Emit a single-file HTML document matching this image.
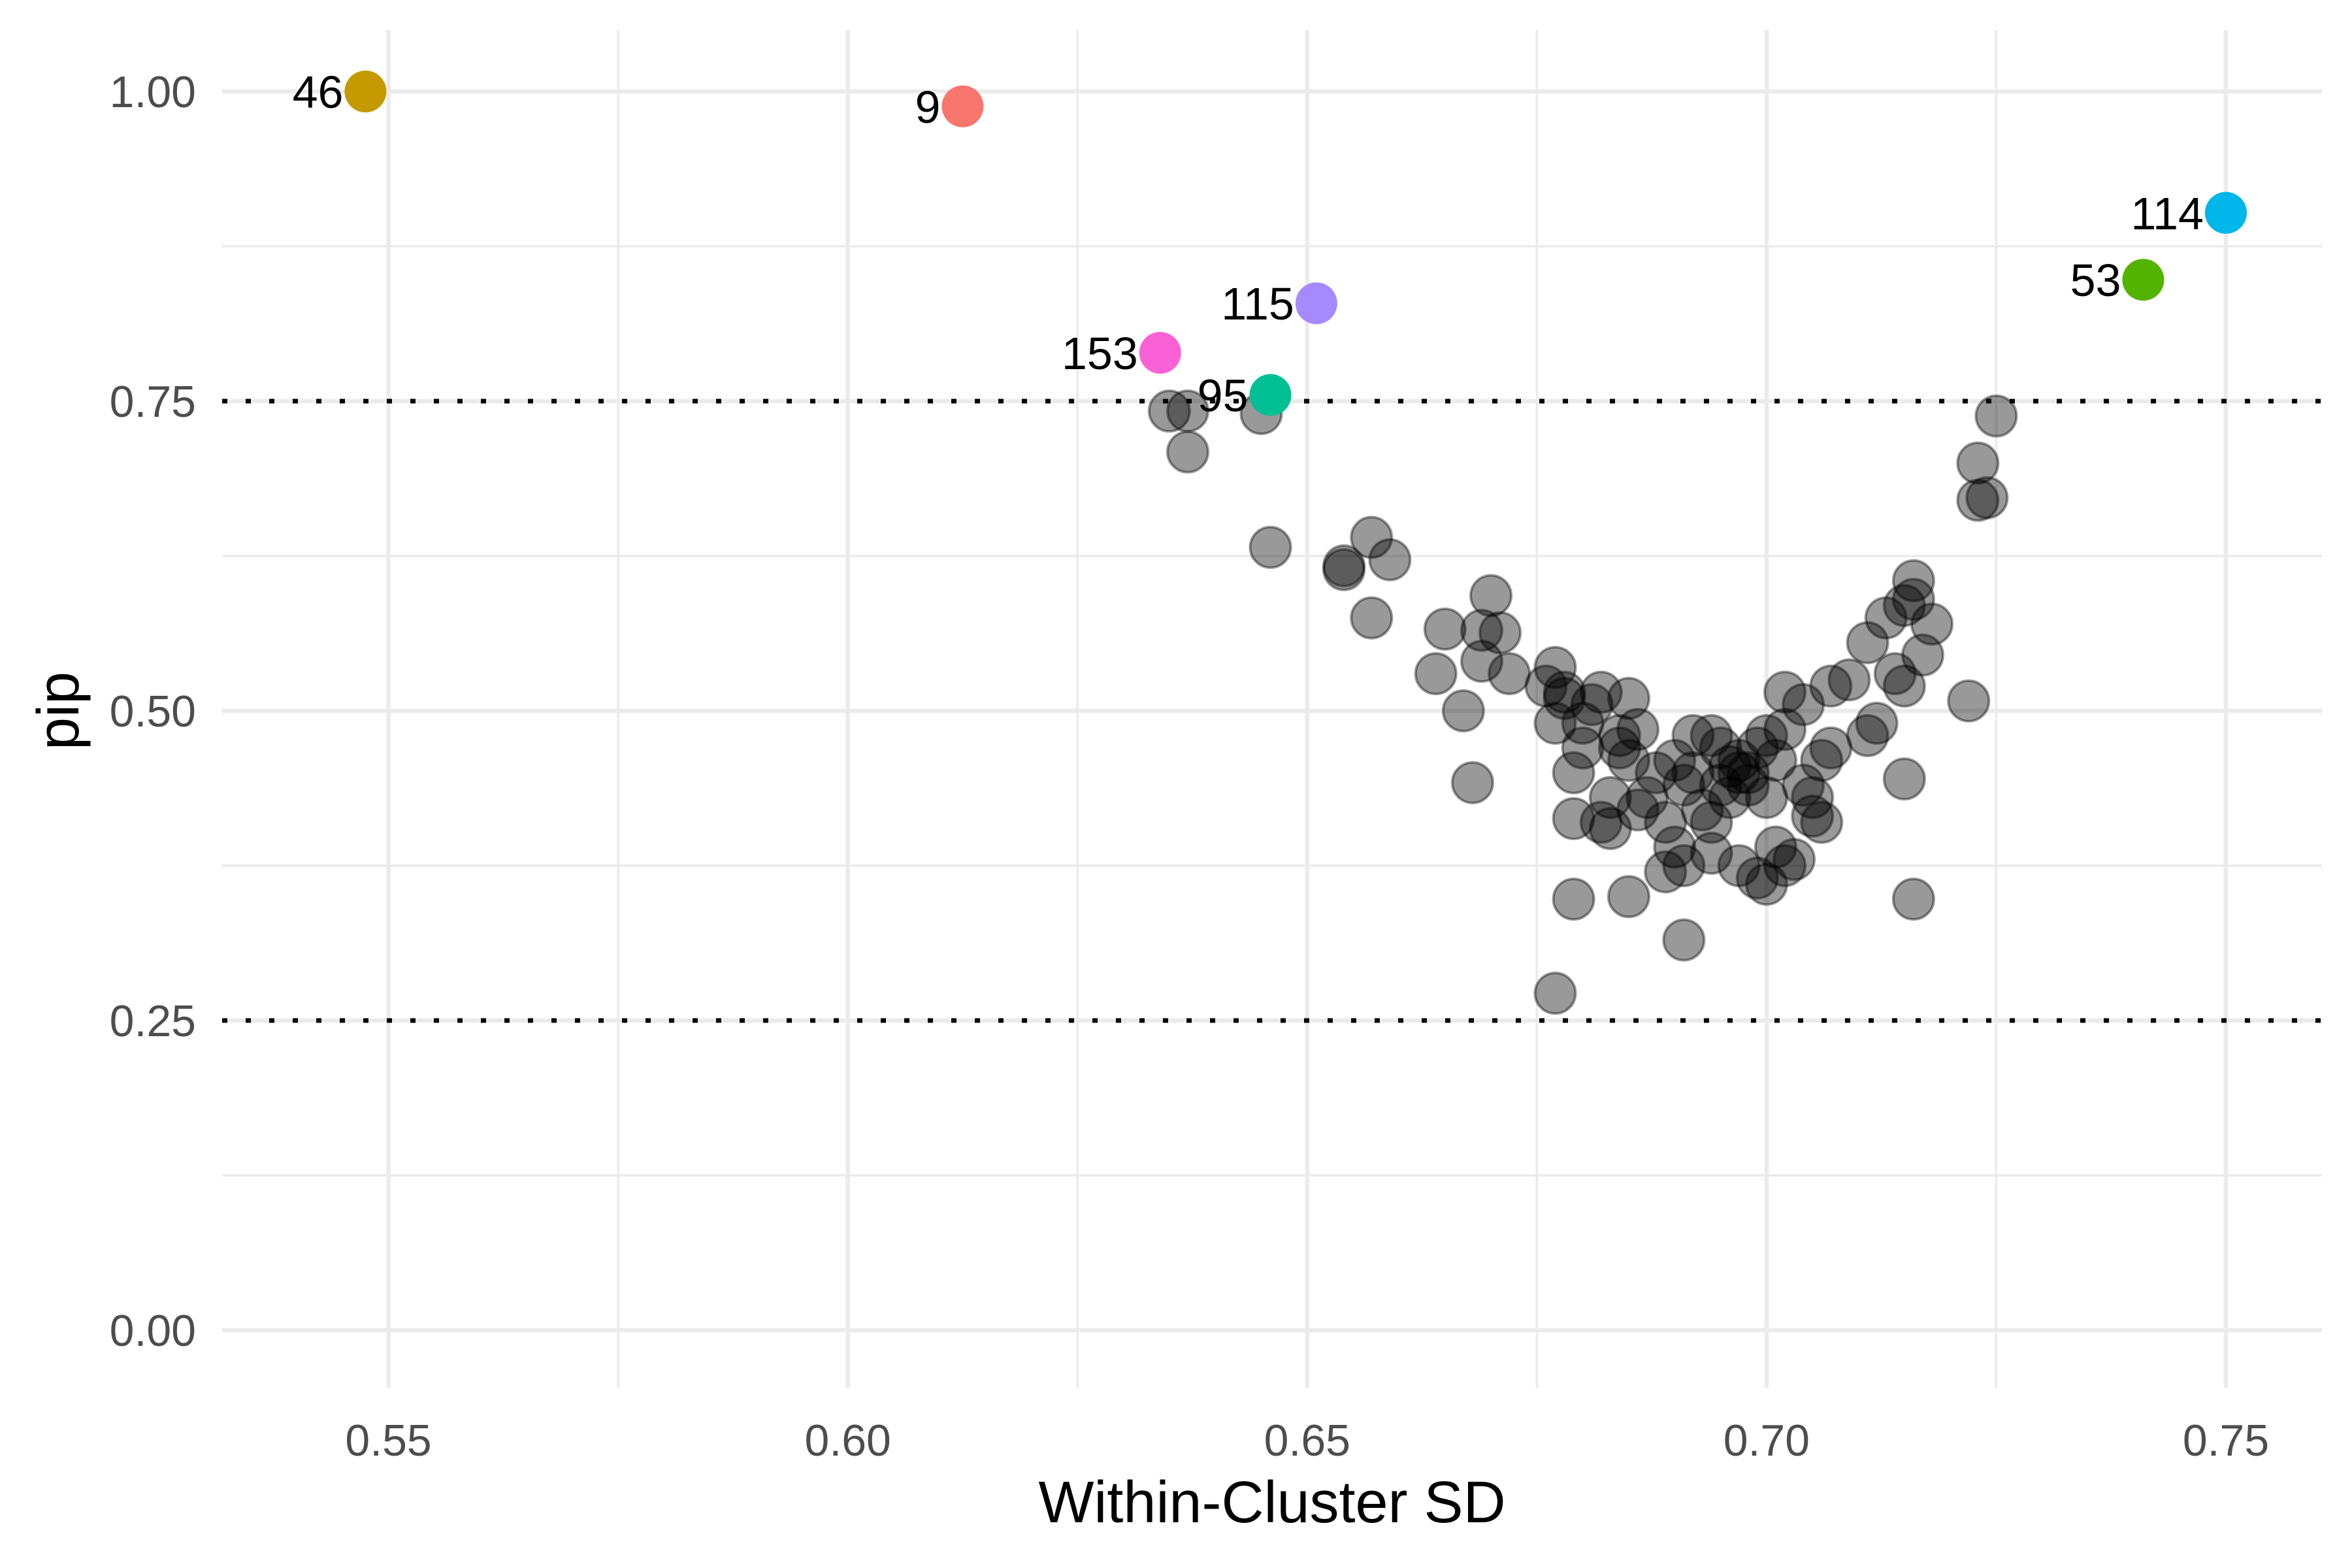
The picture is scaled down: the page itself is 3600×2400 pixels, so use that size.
<!DOCTYPE html>
<html><head><meta charset="utf-8"><style>
html,body{margin:0;padding:0;background:#fff;}
svg{display:block;font-family:"Liberation Sans",sans-serif;}
</style></head><body>
<svg id="chart" width="3600" height="2400" viewBox="0 0 3600 2400" xmlns="http://www.w3.org/2000/svg">
<rect width="3600" height="2400" fill="#fff"/>
<g id="grid"></g>
<g id="refs"></g>
<g id="points"></g>
<g id="highlight"></g>
<g id="axes"></g>
</svg>
<script>
const greyX = [0.635,0.637,0.637,0.645,0.646,0.654,0.654,0.657,0.659,0.657,0.664,0.665,0.667,0.668,0.669,0.669,0.670,0.671,0.672,
0.676,0.677,0.677,0.678,0.678,0.679,0.679,0.679,0.680,0.680,0.681,0.682,0.682,0.683,0.683,0.684,0.684,0.685,0.685,0.685,0.686,0.686,0.687,0.688,0.689,0.689,0.690,0.690,0.691,0.691,0.691,0.692,0.692,0.693,0.694,0.694,0.694,0.695,0.695,0.696,0.696,0.697,0.697,0.697,0.698,0.698,0.699,0.699,0.700,0.700,0.700,0.701,0.701,0.702,0.702,0.702,0.703,0.704,0.704,0.705,0.705,0.706,0.706,0.707,0.707,0.709,0.711,0.711,0.712,0.713,0.714,0.715,0.715,0.715,0.716,0.716,0.716,0.717,0.718,0.722,0.723,0.723,0.724,0.725,0.677];
const greyY = [0.742,0.742,0.709,0.740,0.632,0.614,0.617,0.640,0.622,0.575,0.530,0.566,0.500,0.442,0.540,0.565,0.593,0.563,0.530,
0.52,0.535,0.49,0.51,0.515,0.45,0.413,0.348,0.49,0.47,0.505,0.515,0.41,0.405,0.43,0.47,0.48,0.46,0.51,0.35,0.42,0.485,0.43,0.45,0.41,0.37,0.46,0.39,0.315,0.375,0.44,0.48,0.45,0.42,0.41,0.48,0.385,0.47,0.44,0.43,0.455,0.46,0.45,0.375,0.45,0.44,0.47,0.365,0.43,0.48,0.36,0.46,0.39,0.515,0.485,0.375,0.38,0.505,0.44,0.43,0.415,0.46,0.41,0.47,0.52,0.525,0.555,0.48,0.49,0.575,0.53,0.52,0.585,0.445,0.59,0.605,0.348,0.545,0.57,0.508,0.67,0.70,0.672,0.738,0.272];
const hiLabels = ["46","9","114","53","115","153","95"];
const hiX = [0.5475,0.6125,0.750,0.741,0.651,0.634,0.646];
const hiY = [1.000,0.988,0.902,0.848,0.829,0.789,0.755];
const hiColors = ["#C49A00","#F8766D","#00B6EB","#53B400","#A58AFF","#FB61D7","#00C094"];
const xTicks = [0.55,0.60,0.65,0.70,0.75];
const xTickLabels = ["0.55","0.60","0.65","0.70","0.75"];
const xMinor = [0.525,0.575,0.625,0.675,0.725];
const yTicks = [0,0.25,0.5,0.75,1];
const yTickLabels = ["0.00","0.25","0.50","0.75","1.00"];
const yMinor = [0.125,0.375,0.625,0.875];
const refLines = [0.25,0.75];

const NS="http://www.w3.org/2000/svg";
const L=340,R=3554,T=46,B=2124;
function xs(v){return 594.6+(v-0.55)*14062;}
function ys(v){return 2036-v*1896;}
function mk(tag,attrs,parent){const e=document.createElementNS(NS,tag);for(const k in attrs)e.setAttribute(k,attrs[k]);parent.appendChild(e);return e;}
const grid=document.getElementById('grid'),refs=document.getElementById('refs'),pts=document.getElementById('points'),hi=document.getElementById('highlight'),axes=document.getElementById('axes');

xMinor.forEach(v=>{const x=xs(v);if(x<L)return;const e=mk('line',{x1:x,x2:x,y1:T,y2:B,stroke:'#EBEBEB','stroke-width':3.5},grid);

});
yMinor.forEach(v=>{const y=ys(v);const e=mk('line',{x1:L,x2:R,y1:y,y2:y,stroke:'#EBEBEB','stroke-width':3.5},grid);

});
xTicks.forEach((v,i)=>{const x=xs(v);const e=mk('line',{x1:x,x2:x,y1:T,y2:B,stroke:'#EBEBEB','stroke-width':6.5},grid);


const t=mk('text',{x:x,y:2228,'text-anchor':'middle','font-size':68,fill:'#4D4D4D'},axes);t.textContent=xTickLabels[i];

});
yTicks.forEach((v,i)=>{const y=ys(v);const e=mk('line',{x1:L,x2:R,y1:y,y2:y,stroke:'#EBEBEB','stroke-width':6.5},grid);


const t=mk('text',{x:300,y:y+24,'text-anchor':'end','font-size':68,fill:'#4D4D4D'},axes);t.textContent=yTickLabels[i];

});
refLines.forEach(v=>{const y=ys(v);const e=mk('line',{x1:L,x2:R,y1:y,y2:y,stroke:'#000','stroke-width':7,'stroke-dasharray':'8 28'},refs);

});
greyX.forEach((v,i)=>{const c=mk('circle',{cx:xs(v),cy:ys(greyY[i]),r:31,fill:'rgba(0,0,0,0.4)',stroke:'rgba(0,0,0,0.4)','stroke-width':4},pts);

});
hiX.forEach((v,i)=>{const cx=xs(v),cy=ys(hiY[i]);
const c=mk('circle',{cx:cx,cy:cy,r:32,fill:hiColors[i]},hi);


const t=mk('text',{x:cx-34,y:cy+25,'text-anchor':'end','font-size':70,fill:'#000'},hi);t.textContent=hiLabels[i];

});
const xt=mk('text',{x:(L+R)/2,y:2330,'text-anchor':'middle','font-size':90,fill:'#000'},axes);xt.textContent='Within-Cluster SD';


const yt=mk('text',{x:0,y:0,'text-anchor':'middle','font-size':90,fill:'#000',transform:'translate(120,1088) rotate(-90)'},axes);yt.textContent='pip';


</script>
</body></html>
